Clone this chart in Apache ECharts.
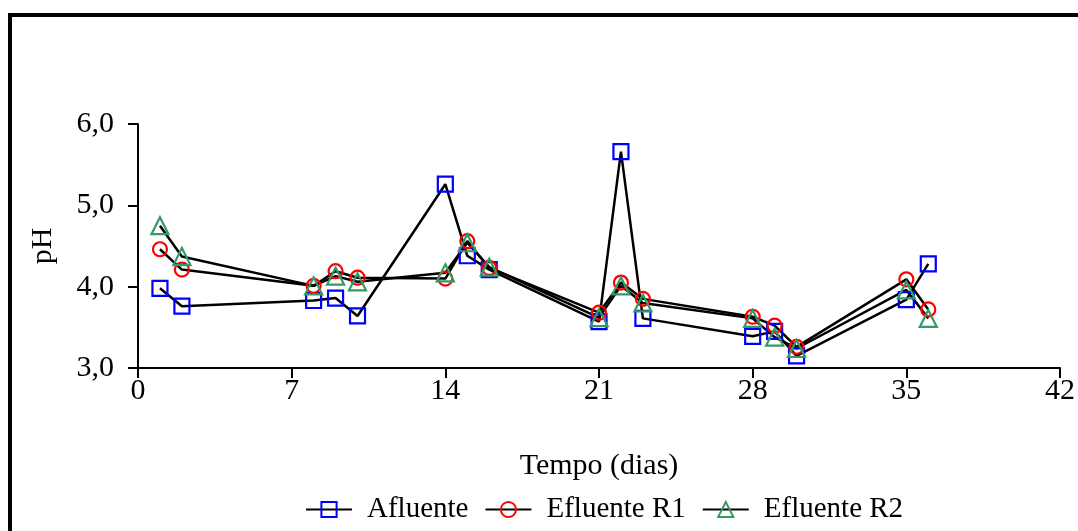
<!DOCTYPE html>
<html>
<head>
<meta charset="utf-8">
<script src="https://cdn.jsdelivr.net/npm/echarts@6/dist/echarts.min.js"></script>
<style>
  html, body { margin: 0; padding: 0; background: #ffffff; }
  #chart { width: 1078px; height: 531px; }
</style>
</head>
<body>
<div id="chart"></div>
<script>
// Sampling days (Tempo, dias)
const days = [1, 2, 8, 9, 10, 14, 15, 16, 21, 22, 23, 28, 29, 30, 35, 36];

// pH per series
const afluente   = [3.98, 3.76, 3.83, 3.86, 3.64, 5.26, 4.38, 4.21, 3.57, 5.66, 3.61, 3.39, 3.45, 3.15, 3.84, 4.28];
const efluenteR1 = [4.46, 4.21, 4.01, 4.19, 4.11, 4.10, 4.56, 4.23, 3.68, 4.05, 3.85, 3.63, 3.52, 3.26, 4.09, 3.72];
const efluenteR2 = [4.75, 4.37, 4.01, 4.13, 4.06, 4.17, 4.54, 4.24, 3.62, 4.01, 3.80, 3.61, 3.38, 3.24, 3.96, 3.61];

const seriesNames = ['Afluente', 'Efluente R1', 'Efluente R2'];
const xTicks = { min: 0, max: 42, step: 7 };
const yTicks = { min: 3, max: 6, step: 1 };

const font = 'Liberation Serif, Times New Roman, serif';

function pairs(values) {
  return days.map((d, i) => [d, values[i]]);
}

function makeSeries(name, values, symbol, size, color) {
  return {
    name: name,
    type: 'line',
    data: pairs(values),
    symbol: symbol,
    symbolSize: size,
    showAllSymbol: true,
    lineStyle: { color: '#000000', width: 2.5 },
    itemStyle: { color: 'rgba(255,255,255,0)', borderColor: color, borderWidth: 2.2 },
    emphasis: { disabled: true },
    z: 2
  };
}

const chart = echarts.init(document.getElementById('chart'), null, { renderer: 'canvas' });

chart.setOption({
  animation: false,
  backgroundColor: '#ffffff',
  textStyle: { fontFamily: font, color: '#000000' },
  grid: { left: 138, right: 13, top: 124, bottom: 163, containLabel: false },
  legend: {
    left: 300,
    top: 490,
    itemWidth: 46,
    itemHeight: 19,
    itemGap: 16,
    data: seriesNames,
    lineStyle: { color: '#000000', width: 2 },
    itemStyle: { borderWidth: 2 },
    textStyle: { fontFamily: font, fontSize: 29, color: '#000000', padding: [0, 0, 0, 10] }
  },
  xAxis: {
    type: 'value',
    min: xTicks.min,
    max: xTicks.max,
    interval: xTicks.step,
    name: 'Tempo (dias)',
    nameLocation: 'middle',
    nameGap: 83,
    nameTextStyle: { fontFamily: font, fontSize: 30, color: '#000000' },
    axisLine: { show: true, lineStyle: { color: '#000000', width: 2 } },
    axisTick: { show: true, inside: false, length: 10, lineStyle: { color: '#000000', width: 2 } },
    axisLabel: { fontFamily: font, fontSize: 30, color: '#000000', margin: 8 },
    splitLine: { show: false }
  },
  yAxis: {
    type: 'value',
    min: yTicks.min,
    max: yTicks.max,
    interval: yTicks.step,
    name: 'pH',
    nameLocation: 'middle',
    nameRotate: 90,
    nameGap: 80,
    nameTextStyle: { fontFamily: font, fontSize: 30, color: '#000000' },
    axisLine: { show: true, lineStyle: { color: '#000000', width: 2 } },
    axisTick: { show: true, inside: false, length: 10, lineStyle: { color: '#000000', width: 2 } },
    axisLabel: {
      fontFamily: font, fontSize: 30, color: '#000000', margin: 24,
      formatter: v => v.toFixed(1).replace('.', ',')
    },
    splitLine: { show: false }
  },
  graphic: [{
    type: 'rect',
    shape: { x: 10, y: 15, width: 1100, height: 600 },
    style: { fill: 'none', stroke: '#000000', lineWidth: 4 },
    silent: true
  }],
  series: [
    makeSeries(seriesNames[0], afluente, 'rect', 15, '#0000ff'),
    makeSeries(seriesNames[1], efluenteR1, 'circle', 14, '#ff0000'),
    makeSeries(seriesNames[2], efluenteR2, 'triangle', 17, '#339966')
  ]
});
</script>
</body>
</html>
